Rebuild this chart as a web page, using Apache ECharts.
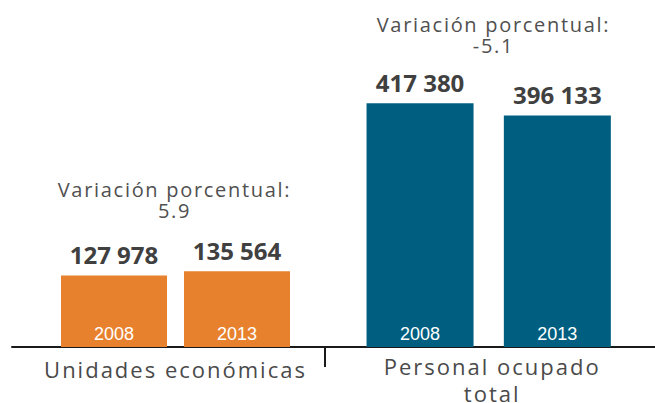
<!DOCTYPE html>
<html><head><meta charset="utf-8">
<script src="https://cdn.jsdelivr.net/npm/echarts@6/dist/echarts.min.js"></script>
<style>html,body{margin:0;padding:0;background:#fff}#c{width:655px;height:403px}</style>
</head><body><div id="c"></div>
<script>
// ---- data ----
const years = ['2008', '2013'];
const groupNames = ['Unidades económicas', 'Personal ocupado\ntotal'];
const unidades = [127978, 135564];
const personal = [417380, 396133];
const variationLabel = 'Variación porcentual:';
const variations = ['5.9', '-5.1'];

// ---- style ----
const ORANGE = '#E8812D';
const BLUE = '#005F80';
const FONT = 'Open Sans';

const fmt = v => String(v).replace(/\B(?=(\d{3})+(?!\d))/g, ' ');

const chart = echarts.init(document.getElementById('c'), null, {renderer: 'svg'});

function barLabel() {
  return {show: true, position: 'top', distance: 9, formatter: p => fmt(p.value),
    fontSize: 24, fontWeight: 'bold', color: '#404040', fontFamily: FONT};
}
function yearAxis(i, name, gap, lh, padLeft) {
  return {gridIndex: i, type: 'category', data: years, z: 10,
    axisLine: {show: false}, axisTick: {show: false},
    axisLabel: {inside: true, margin: 4, color: '#ffffff', fontSize: 18, fontFamily: 'Liberation Sans'},
    name: name, nameLocation: 'middle', nameGap: gap,
    nameTextStyle: {fontSize: 22, color: '#4a4a4a', fontFamily: FONT, lineHeight: lh, padding: [0, 0, 0, padLeft]}};
}
function varTitle(i, left, top) {
  return {text: variationLabel + '\n' + variations[i], left: left, top: top, textAlign: 'center', padding: 0,
    textStyle: {fontSize: 20, fontWeight: 'normal', color: '#505050', lineHeight: 21, fontFamily: FONT}};
}

chart.setOption({
  animation: false,
  title: [varTitle(0, 174.5, 178.5), varTitle(1, 493.5, 13.8)],
  grid: [
    {left: 52.5, width: 246, top: 47, bottom: 56, outerBoundsMode: 'none', containLabel: false},
    {left: 351.4, width: 274.6, top: 47, bottom: 56, outerBoundsMode: 'none', containLabel: false},
    {left: 12, right: 0, top: 47, bottom: 56, outerBoundsMode: 'none', containLabel: false}
  ],
  xAxis: [
    yearAxis(0, groupNames[0], 11.2, 22, 0),
    yearAxis(1, groupNames[1], 4.3, 26.7, 7),
    {gridIndex: 2, type: 'value', min: 0, max: 1,
      axisLine: {show: true, onZero: false, lineStyle: {color: '#1a1a1a', width: 2}},
      axisTick: {show: false}, axisLabel: {show: false}, splitLine: {show: false}}
  ],
  yAxis: [
    {gridIndex: 0, type: 'value', min: 0, max: 536700, show: false},
    {gridIndex: 1, type: 'value', min: 0, max: 513500, show: false},
    {gridIndex: 2, type: 'value', min: 0, max: 1, show: false}
  ],
  series: [
    {type: 'bar', xAxisIndex: 0, yAxisIndex: 0, data: unidades, barWidth: 106,
      itemStyle: {color: ORANGE}, label: barLabel()},
    {type: 'bar', xAxisIndex: 1, yAxisIndex: 1, data: personal, barWidth: 107,
      itemStyle: {color: BLUE}, label: barLabel()}
  ],
  graphic: [{type: 'line', z: 10, shape: {x1: 325, y1: 347, x2: 325, y2: 367},
    style: {stroke: '#1a1a1a', lineWidth: 2}}]
});

// letter spacing for the light grey texts
const spacing = {};
spacing[variationLabel] = '1.7px';
variations.forEach(v => spacing[v] = '1.7px');
groupNames.forEach(n => n.split('\n').forEach(s => spacing[s] = '2px'));
function applySpacing() {
  chart.getDom().querySelectorAll('text').forEach(t => {
    const s = t.textContent;
    if (spacing[s]) t.style.letterSpacing = spacing[s];
  });
}
applySpacing();
chart.on('finished', applySpacing);
</script></body></html>
